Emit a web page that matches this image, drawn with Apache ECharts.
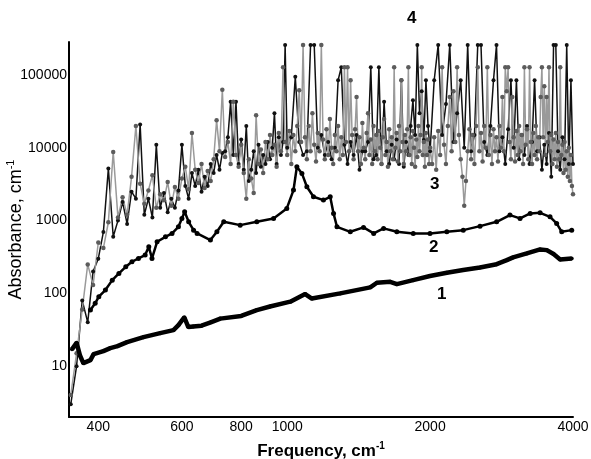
<!DOCTYPE html>
<html><head><meta charset="utf-8">
<script src="https://cdn.jsdelivr.net/npm/echarts@6/dist/echarts.min.js"></script>
<style>html,body{margin:0;padding:0;background:#fff}#c{width:591px;height:459px}</style>
</head><body><div id="c"></div>
<script>
// ---- tick labels ----
const xTickLabels = [400, 600, 800, 1000, 2000, 4000];
const yTickLabels = [10, 100, 1000, 10000, 100000];
const curveLabels = ['1', '2', '3', '4'];

// ---- series 1 (bottom smooth curve) ----
const s1Freq = [352,360,366,372,385,391,410,424,439,460,498,540,576,590,607,619,634,660,690,723,800,863,920,1015,1091,1127,1293,1496,1545,1648,1702,1842,1999,2169,2348,2548,2762,2901,2991,3197,3410,3523,3640,3758,3975];
const s1Val  = [17,21,14,11,12.1,14.6,16.1,17.7,18.8,21.4,25,28.4,31.3,36.6,47,34.4,35,36,40,45,49,59,66,77,98,85,100,121,140,144,134,152,173,192,209,227,252,286,312,354,402,393,347,293,302];

// ---- series 2 ----
const s2Freq = [385,394,401,414,428,442,457,471,486,502,511,519,532,554,572,590,600,608,620,635,646,689,711,735,796,863,936,998,1031,1048,1074,1100,1136,1192,1232,1252,1273,1358,1448,1521,1596,1702,1843,1999,2169,2349,2548,2762,2946,3094,3250,3410,3578,3695,3787,3975];
const s2Val  = [59,73,90,111,152,188,232,272,302,336,436,302,512,599,667,822,1072,1321,963,740,667,540,702,963,867,963,1072,1472,2625,5500,4453,2918,2126,1914,2126,1257,822,702,807,667,782,702,667,667,702,740,840,963,1190,1072,1257,1280,1128,915,702,740];

// ---- series 3 (grey, noisy) ----
const s3Freq = [
350,360,370,380,390,400,410,420,430,440,
450,460,470,480,490,500,510,520,530,540,
550,560,570,580,590,600,610,620,630,640,
650,660,670,680,690,700,710,720,730,740,
750,760,770,780,790,800,810,820,830,840,
850,860,870,880,890,900,910,920,930,940,
950,960,970,980,990,
1000,1010,1020,1030,1040,1050,1060,1070,1080,1090,
1100,1110,1120,1130,1140,1150,1160,1170,1180,1190,
1200,1210,1220,1230,1240,1250,1260,1270,1280,1290,
1300,1310,1320,1330,1340,1350,1360,1370,1380,1390,
1400,1410,1420,1430,1440,1450,1460,1470,1480,1490,
1500,1510,1520,1530,1540,1550,1560,1570,1580,1590,
1600,1610,1620,1630,1640,1650,1660,1670,1680,1690,
1700,1710,1720,1730,1740,1750,1760,1770,1780,1790,
1800,1810,1820,1830,1840,1850,1860,1870,1880,1890,
1900,1910,1920,1930,1940,1950,1960,1970,1980,1990,
2000,
2020,2040,2060,2080,2100,2120,2140,2160,2180,2200,
2220,2240,2260,2280,2300,2320,2340,2360,2380,2400,
2420,2440,2460,2480,2500,2520,2540,2560,2580,2600,
2620,2640,2660,2680,2700,2720,2740,2760,2780,2800,
2820,2840,2860,2880,2900,2920,2940,2960,2980,3000,
3020,3040,3060,3080,3100,3120,3140,3160,3180,3200,
3220,3240,3260,3280,3300,3320,3340,3360,3380,3400,
3420,3440,3460,3480,3500,3520,3540,3560,3580,3600,
3620,3640,3660,3680,3700,3720,3740,3760,3780,3800,
3820,3840,3860,3880,3900,3920,3940,3960,3980,4000];
const s3Val = [
4,15,60,250,130,500,420,950,8800,1100,
2100,1200,4000,20000,3200,1700,2600,4200,1500,2300,
1900,3400,1600,2900,2000,3800,5500,2700,16000,5000,
3300,6000,2800,4800,3500,7000,24000,9000,63000,7500,
12000,6000,43000,8000,5500,11000,4500,2000,7000,3800,
2400,28000,6000,9500,4500,12000,7000,15000,8000,11000,
5500,16000,9000,128000,12000,
8000,17000,6000,15000,9000,20000,62000,12000,260000,14000,
7000,20000,9000,30000,11000,6500,16000,9000,260000,13000,
7000,18000,8000,25000,10000,6000,15000,9000,20000,7000,
14000,8000,128000,12000,128000,9000,85000,15000,7000,18000,
50000,9000,14000,6000,22000,10000,7000,16000,30000,8000,
13000,6000,20000,9000,15000,7000,17000,10000,6000,14000,
25000,8000,12000,5500,18000,9000,14000,7000,128000,10000,
16000,6500,20000,9000,85000,12000,6000,15000,9000,18000,
128000,8000,14000,6000,17000,10000,5500,13000,7500,20000,
9000,15000,128000,8000,12000,5500,16000,8000,13000,6000,
10000,
6000,14000,5000,17000,8000,128000,11000,6000,20000,50000,
9000,60000,12000,128000,15000,7000,4000,1600,3500,9000,
18000,7000,15000,6000,20000,128000,9000,16000,6500,20000,
10000,128000,8000,15000,6000,18000,9000,14000,6500,20000,
10000,50000,9000,128000,60000,128000,12000,7000,50000,14000,
6500,17000,8000,20000,9000,15000,6000,128000,11000,18000,
7000,128000,12000,6000,16000,8000,20000,7000,14000,9000,
50000,128000,14000,70000,8000,50000,12000,128000,9000,15000,
6000,13000,7000,16000,5500,12000,7000,128000,8000,11000,
4500,12000,5000,9000,4000,10000,3500,8000,3000,2300];

// ---- series 4 (black, noisy) ----
const s4Freq = [350,360,370,380,390,400,410,420,430,440,450,460,470,480,490,500,510,520,530,540,550,560,570,580,590,600,610,620,630,640,650,660,670,680,690,700,710,720,730,740,750,760,770,780,790,800,810,820,830,840,850,860,870,880,890,900,910,920,930,940,950,960,970,980,990,
1000,1020,1040,1060,1080,1100,1120,1140,1160,1180,1200,1220,1240,1260,1280,1300,1320,1340,1360,1380,1400,1420,1440,1460,1480,1500,1520,1540,1560,1580,1600,1620,1640,1660,1680,1700,1720,1740,1760,1780,1800,1820,1840,1860,1880,1900,1920,1940,1960,1980,
2000,2040,2080,2120,2160,2200,2240,2280,2320,2360,2400,2440,2480,2520,2560,2600,2640,2680,2720,2760,2800,2840,2880,2920,2960,3000,3040,3080,3120,3160,3200,3240,3280,3320,3360,3400,3440,3480,3520,3560,3600,3640,3680,3720,3760,3800,3840,3880,3920,3960,4000];
const s4Val = [3,10,80,40,200,300,700,5200,600,1000,1800,900,2500,2000,21000,1200,2000,1100,11000,1500,2400,1300,2000,1500,2600,11000,3000,2000,4500,3000,5000,2500,4000,3000,6000,4500,8000,5000,8500,9000,14000,43000,8000,43000,6000,13000,5000,20000,3500,5000,9000,4500,11000,5500,8000,6000,12000,7000,10000,30000,6000,14000,8000,12000,260000,
10000,14000,95000,12000,8000,9000,260000,260000,10000,15000,8000,12000,7000,10000,85000,128000,11000,6000,12000,8000,15000,5000,9000,9000,12000,128000,7000,8000,128000,6000,43000,9000,6000,11000,7000,13000,6000,85000,5500,12000,8000,20000,45000,15000,260000,30000,60000,12800,85000,20000,
9000,85000,260000,15000,40000,260000,12000,30000,85000,10000,260000,9000,15000,260000,260000,12000,8000,20000,85000,260000,9000,14000,6000,18000,85000,10000,85000,7000,15000,8000,20000,6000,12000,85000,9000,14000,5000,11000,6000,16000,4000,260000,260000,9000,5000,14000,7000,260000,6000,85000,6000];

function pairs(xs, ys) { return xs.map((x, i) => [x, ys[i]]); }

const FONT = 'Liberation Sans';
const chart = echarts.init(document.getElementById('c'), null, {renderer: 'canvas'});
const option = {
  animation: false,
  backgroundColor: '#fff',
  grid: {left: 69, right: 18, top: 42, bottom: 42, containLabel: false, outerBoundsMode: 'none'},
  xAxis: {
    type: 'log', min: 347, max: 4000,
    axisLine: {lineStyle: {color: '#000', width: 2}},
    axisTick: {show: false}, splitLine: {show: false}, minorTick: {show: false},
    axisLabel: {customValues: xTickLabels, formatter: v => String(Math.round(v)), color: '#000', fontFamily: FONT, fontSize: 14, margin: 3},
    name: '{b|Frequency, cm}{s|-1}', nameLocation: 'middle', nameGap: 24, nameMoveOverlap: false,
    nameTextStyle: {rich: {
      b: {fontFamily: FONT, fontSize: 17, fontWeight: 'bold', color: '#000', lineHeight: 20},
      s: {fontFamily: FONT, fontSize: 10, fontWeight: 'bold', color: '#000', verticalAlign: 'top', lineHeight: 20}
    }}
  },
  yAxis: {
    type: 'log', min: 2, max: 285000,
    axisLine: {lineStyle: {color: '#000', width: 2}},
    axisTick: {show: false}, splitLine: {show: false}, minorTick: {show: false},
    axisLabel: {customValues: yTickLabels, formatter: v => String(Math.round(v)), color: '#000', fontFamily: FONT, fontSize: 14, margin: 2},
    name: '{b|Absorbance, cm}{s|-1}', nameLocation: 'middle', nameGap: 42, nameRotate: 90, nameMoveOverlap: false,
    nameTextStyle: {rich: {
      b: {fontFamily: FONT, fontSize: 18, color: '#000', lineHeight: 22},
      s: {fontFamily: FONT, fontSize: 11, color: '#000', verticalAlign: 'top', lineHeight: 22}
    }}
  },
  series: [
    {name: '1', type: 'line', data: pairs(s1Freq, s1Val), symbol: 'circle', symbolSize: 4,
      itemStyle: {color: '#000'}, lineStyle: {color: '#000', width: 4.5}, z: 3},
    {name: '2', type: 'line', data: pairs(s2Freq, s2Val), symbol: 'circle', symbolSize: 5,
      itemStyle: {color: '#000'}, lineStyle: {color: '#000', width: 2.5}, z: 3},
    {name: '4', type: 'line', data: pairs(s4Freq, s4Val), symbol: 'circle', symbolSize: 4,
      itemStyle: {color: '#111'}, lineStyle: {color: '#111', width: 1.5}, z: 2},
    {name: '3', type: 'line', data: pairs(s3Freq, s3Val), symbol: 'circle', symbolSize: 4.5,
      itemStyle: {color: '#5c5c5c'}, lineStyle: {color: '#9a9a9a', width: 1.5}, z: 2}
  ],
  graphic: [
    {type: 'text', left: 437, top: 286, style: {text: curveLabels[0], font: 'bold 17px "Liberation Sans"', fill: '#000'}},
    {type: 'text', left: 429, top: 239, style: {text: curveLabels[1], font: 'bold 17px "Liberation Sans"', fill: '#000'}},
    {type: 'text', left: 430, top: 176, style: {text: curveLabels[2], font: 'bold 17px "Liberation Sans"', fill: '#000'}},
    {type: 'text', left: 407, top: 10, style: {text: curveLabels[3], font: 'bold 17px "Liberation Sans"', fill: '#000'}}
  ]
};
chart.setOption(option);
</script>
</body></html>
